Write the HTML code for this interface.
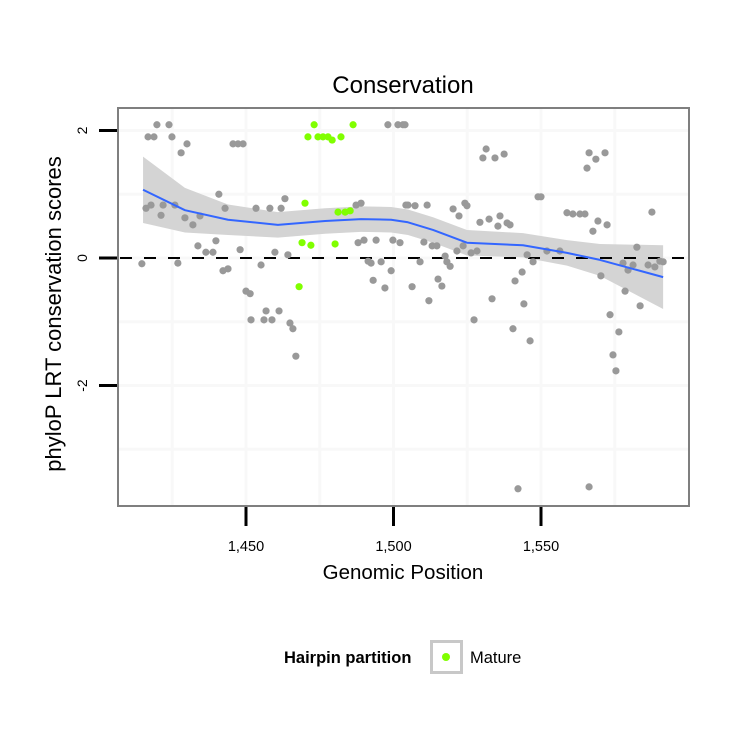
<!DOCTYPE html>
<html><head><meta charset="utf-8"><style>
body{margin:0;background:#fff}
svg text{font-family:"Liberation Sans",sans-serif}
</style></head><body>
<svg id="c" width="750" height="750" xmlns="http://www.w3.org/2000/svg"></svg>
<script>
const grayPos=[1414.7,1416.1,1417.8,1416.8,1418.8,1419.8,1423.9,1424.9,1421.2,1421.9,1425.9,1426.9,1428.0,1430.0,1429.3,1432.0,1434.4,1433.7,1436.4,1438.8,1439.8,1440.8,1442.9,1442.2,1443.9,1445.6,1447.3,1449.0,1448.0,1450.0,1451.4,1451.7,1453.4,1455.1,1456.1,1456.8,1458.1,1458.8,1459.8,1461.2,1461.9,1463.2,1464.2,1464.9,1465.9,1466.9,1487.3,1489.0,1488.0,1490.0,1494.1,1499.8,1502.2,1491.4,1492.4,1495.8,1499.2,1493.1,1497.1,1498.1,1501.5,1503.2,1503.9,1504.2,1504.9,1507.3,1511.4,1510.3,1513.1,1514.7,1509.0,1518.1,1519.2,1517.5,1515.1,1516.4,1506.3,1512.0,1520.2,1522.2,1524.2,1524.9,1523.6,1521.5,1526.3,1528.3,1527.3,1529.3,1532.4,1536.1,1535.4,1538.5,1539.5,1531.4,1530.3,1534.4,1537.5,1533.4,1540.5,1541.2,1543.6,1544.2,1546.3,1545.3,1547.3,1542.2,1549.0,1550.0,1552.0,1556.4,1558.8,1560.8,1563.2,1564.9,1565.6,1566.3,1568.6,1571.7,1567.6,1569.3,1572.4,1570.3,1566.3,1573.4,1576.4,1574.4,1575.4,1578.5,1577.8,1579.5,1581.2,1582.5,1583.6,1586.3,1587.6,1588.6,1590.3,1591.4];
const grayVal=[-0.09,0.78,0.83,1.90,1.90,2.09,2.09,1.90,0.67,0.83,0.83,-0.08,1.65,1.79,0.63,0.52,0.66,0.19,0.09,0.09,0.27,1.00,0.78,-0.20,-0.17,1.79,1.79,1.79,0.13,-0.52,-0.56,-0.97,0.78,-0.11,-0.97,-0.83,0.78,-0.97,0.09,-0.83,0.78,0.93,0.05,-1.02,-1.11,-1.54,0.83,0.86,0.24,0.28,0.28,0.28,0.24,-0.05,-0.08,-0.06,-0.20,-0.35,-0.47,2.09,2.09,2.09,2.09,0.83,0.83,0.82,0.83,0.25,0.19,0.19,-0.06,-0.06,-0.13,0.03,-0.33,-0.44,-0.45,-0.67,0.77,0.66,0.86,0.82,0.19,0.11,0.08,0.11,-0.97,0.56,0.61,0.66,0.50,0.55,0.52,1.71,1.57,1.57,1.63,-0.64,-1.11,-0.36,-0.22,-0.72,-1.30,0.05,-0.06,-3.62,0.96,0.96,0.11,0.11,0.71,0.69,0.69,0.69,1.41,1.65,1.55,1.65,0.42,0.58,0.52,-0.28,-3.59,-0.89,-1.16,-1.52,-1.77,-0.52,-0.08,-0.19,-0.11,0.17,-0.75,-0.11,0.72,-0.14,-0.05,-0.06];
const maturePos=[1473.1,1486.3,1471.0,1474.4,1476.1,1477.8,1479.2,1482.2,1470.0,1481.2,1483.6,1485.3,1469.0,1472.0,1480.2,1468.0];
const matureVal=[2.09,2.09,1.90,1.90,1.90,1.90,1.85,1.90,0.86,0.72,0.72,0.74,0.24,0.20,0.22,-0.45];
const smoothPos=[1415.1,1429.3,1443.9,1460.8,1476.8,1489.0,1499.2,1504.9,1513.4,1524.9,1543.9,1558.8,1570.0,1591.4];
const smoothVal=[1.07,0.75,0.60,0.52,0.58,0.61,0.60,0.56,0.44,0.24,0.20,0.08,-0.03,-0.30];
const smoothSe=[0.52,0.35,0.24,0.2,0.2,0.2,0.2,0.2,0.2,0.2,0.19,0.2,0.25,0.5];
const xTicks=[1450,1500,1550];
const xTickLabels=["1,450","1,500","1,550"];
const xMinor=[1425,1475,1525,1575];
const yTicks=[2,0,-2];
const yTickLabels=["2","0","-2"];
const yMinor=[1,-1,-3];

const NS="http://www.w3.org/2000/svg";
const svg=document.getElementById('c');
const L=118,R=689,T=108,B=506;
const x=p=>246+(p-1450)*2.95;
const y=v=>258-v*63.75;
function mk(tag,attrs,parent){const e=document.createElementNS(NS,tag);for(const k in attrs)e.setAttribute(k,attrs[k]);(parent||svg).appendChild(e);return e;}

const bg=mk('rect',{x:L,y:T,width:R-L,height:B-T,fill:'#fff'});


[...xTicks,...xMinor].forEach(p=>{const g=mk('line',{x1:x(p),x2:x(p),y1:T,y2:B,stroke:'#f8f8f8','stroke-width':3});

});
[...yTicks,...yMinor].forEach(v=>{const g=mk('line',{x1:L,x2:R,y1:y(v),y2:y(v),stroke:'#f8f8f8','stroke-width':3});

});

let up=smoothPos.map((p,i)=>x(p)+','+y(smoothVal[i]+smoothSe[i]));
let lo=smoothPos.map((p,i)=>x(p)+','+y(smoothVal[i]-smoothSe[i])).reverse();
const band=mk('polygon',{points:up.concat(lo).join(' '),fill:'#d4d4d4'});



const zl=mk('line',{x1:L,x2:R,y1:y(0),y2:y(0),stroke:'#000','stroke-width':2,'stroke-dasharray':'12,12','stroke-dashoffset':-2});



grayPos.forEach((p,i)=>{const c=mk('circle',{cx:x(p),cy:y(grayVal[i]),r:3.6,fill:'#999'});

});
maturePos.forEach((p,i)=>{const c=mk('circle',{cx:x(p),cy:y(matureVal[i]),r:3.6,fill:'#80ff00'});

});

const sl=mk('polyline',{points:smoothPos.map((p,i)=>x(p)+','+y(smoothVal[i])).join(' '),fill:'none',stroke:'#3366ff','stroke-width':2,'stroke-linejoin':'round'});



const bd=mk('rect',{x:L,y:T,width:R-L,height:B-T,fill:'none',stroke:'#7f7f7f','stroke-width':2});



xTicks.forEach((p,i)=>{const t=mk('line',{x1:x(p),x2:x(p),y1:B+1,y2:B+20,stroke:'#000','stroke-width':3});


const l=mk('text',{x:x(p),y:551,'text-anchor':'middle','font-size':14.5});l.textContent=xTickLabels[i];

});
yTicks.forEach((v,i)=>{const t=mk('line',{x1:99,x2:L-1,y1:y(v),y2:y(v),stroke:'#000','stroke-width':3});


const l=mk('text',{x:87,y:y(v),'text-anchor':'middle','font-size':14,transform:`rotate(-90 87 ${y(v)})`});l.textContent=yTickLabels[i];

});

const ti=mk('text',{x:403,y:93,'text-anchor':'middle','font-size':24});ti.textContent='Conservation';


const xt=mk('text',{x:403,y:579,'text-anchor':'middle','font-size':20.5});xt.textContent='Genomic Position';


const yt=mk('text',{x:61,y:314,'text-anchor':'middle','font-size':22,transform:'rotate(-90 61 314)'});yt.textContent='phyloP LRT conservation scores';



const lt=mk('text',{x:284,y:663,'font-size':16.5,'font-weight':'bold'});lt.textContent='Hairpin partition';


const lk=mk('rect',{x:431.5,y:641.5,width:30,height:31,fill:'#fff',stroke:'#c8c8c8','stroke-width':3});


const ld=mk('circle',{cx:446,cy:657,r:4,fill:'#80ff00'});


const ll=mk('text',{x:470,y:663,'font-size':16.5});ll.textContent='Mature';


</script>
</body></html>
